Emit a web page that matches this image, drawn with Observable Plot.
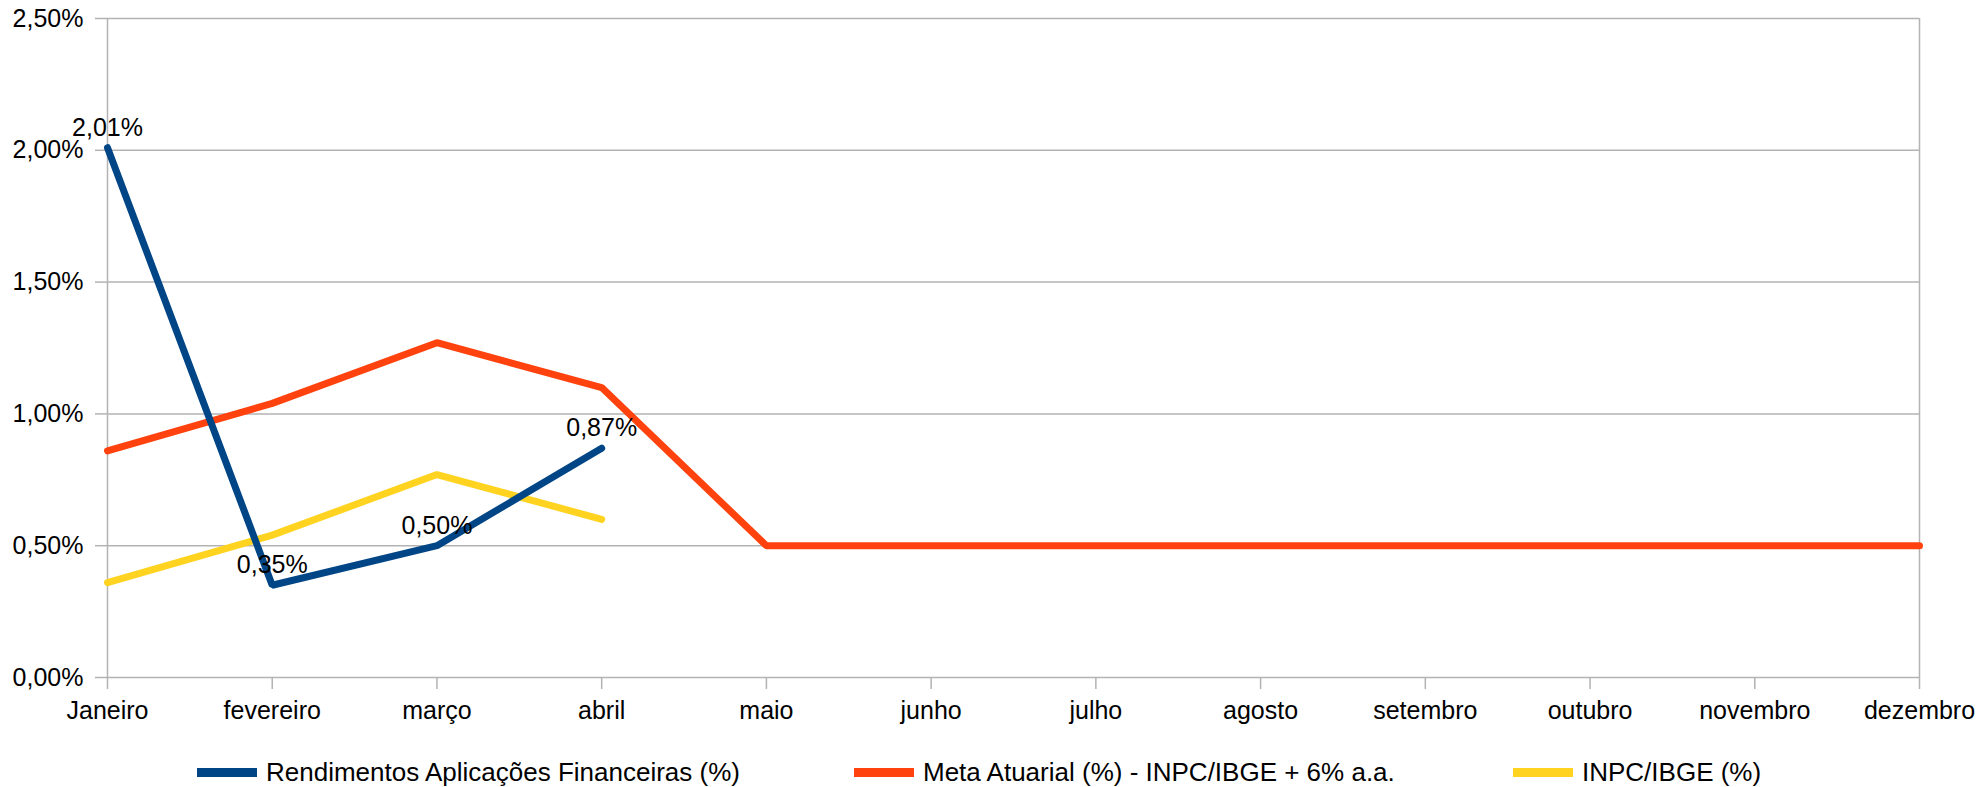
<!DOCTYPE html>
<html>
<head>
<meta charset="utf-8">
<script src="https://cdn.jsdelivr.net/npm/d3@7"></script>
<script src="https://cdn.jsdelivr.net/npm/@observablehq/plot@0.6"></script>
<style>
  html, body { margin: 0; padding: 0; background: #fff; }
  #wrap { width: 1981px; height: 787px; position: relative; overflow: hidden; font-family: "Liberation Sans", Arial, sans-serif; }
  #legend { position: relative; width: 1981px; height: 47px; }
  .item { position: absolute; top: 18px; display: flex; align-items: center; font-size: 26px; color: #000; white-space: nowrap; line-height: 28px; }
  .sw { width: 60px; height: 9px; margin-right: 9px; }
</style>
</head>
<body>
<div id="wrap">
  <div id="chart"></div>
  <div id="legend"></div>
</div>
<script>
const months = ["Janeiro","fevereiro","março","abril","maio","junho","julho","agosto","setembro","outubro","novembro","dezembro"];
const rendimentos = [2.01, 0.35, 0.50, 0.87, null, null, null, null, null, null, null, null];
const metaAtuarial = [0.86, 1.04, 1.27, 1.10, 0.50, 0.50, 0.50, 0.50, 0.50, 0.50, 0.50, 0.50];
const inpc = [0.36, 0.54, 0.77, 0.60, null, null, null, null, null, null, null, null];
const yTicks = [0, 0.5, 1.0, 1.5, 2.0, 2.5];
const seriesNames = ["Rendimentos Aplicações Financeiras (%)", "Meta Atuarial (%) - INPC/IBGE + 6% a.a.", "INPC/IBGE (%)"];
const seriesColors = ["#004586", "#ff420e", "#ffd320"];

const fmt = v => v.toFixed(2).replace(".", ",") + "%";
const rows = months.map((m, i) => ({month: m, rend: rendimentos[i], meta: metaAtuarial[i], inpc: inpc[i]}));
const rendRows = rows.filter(d => d.rend != null);
const metaRows = rows.filter(d => d.meta != null);
const inpcRows = rows.filter(d => d.inpc != null);
const grid = "#b3b3b3";

const chart = Plot.plot({
  width: 1981,
  height: 740,
  marginLeft: 107,
  marginRight: 62,
  marginTop: 18,
  marginBottom: 63,
  style: {fontFamily: "'Liberation Sans', Arial, sans-serif", fontSize: "25px", color: "#000", background: "#fff", overflow: "visible"},
  x: {type: "point", domain: months, padding: 0, round: false},
  y: {domain: [yTicks[0], yTicks[yTicks.length - 1]]},
  marks: [
    Plot.gridY(yTicks, {stroke: grid, strokeOpacity: 1, strokeWidth: 1.5}),
    Plot.ruleX([months[0], months[months.length - 1]], {y1: () => yTicks[0], y2: () => yTicks[yTicks.length - 1], stroke: grid, strokeWidth: 1.5}),
    Plot.axisY(yTicks, {tickSize: 12, tickPadding: 12, tickFormat: fmt, stroke: grid, strokeWidth: 1.5, label: null, fontSize: 25}),
    Plot.axisX({tickSize: 12, tickPadding: 12, stroke: grid, strokeWidth: 1.5, label: null, fontSize: 25}),
    Plot.line(inpcRows, {x: "month", y: "inpc", stroke: seriesColors[2], strokeWidth: 7, strokeLinejoin: "miter"}),
    Plot.line(metaRows, {x: "month", y: "meta", stroke: seriesColors[1], strokeWidth: 7, strokeLinejoin: "miter"}),
    Plot.line(rendRows, {x: "month", y: "rend", stroke: seriesColors[0], strokeWidth: 7, strokeLinejoin: "miter"}),
    Plot.text(rendRows, {x: "month", y: "rend", text: d => fmt(d.rend), dy: -20, fill: "#000", fontSize: 25, textAnchor: "middle", lineAnchor: "middle"})
  ]
});
document.getElementById("chart").appendChild(chart);

const legendLeft = [197, 854, 1513];
const legend = document.getElementById("legend");
seriesNames.forEach((name, i) => {
  const item = document.createElement("div");
  item.className = "item";
  item.style.left = legendLeft[i] + "px";
  const sw = document.createElement("span");
  sw.className = "sw";
  sw.style.background = seriesColors[i];
  const t = document.createElement("span");
  t.textContent = name;
  item.appendChild(sw);
  item.appendChild(t);
  legend.appendChild(item);
});
</script>
</body>
</html>
